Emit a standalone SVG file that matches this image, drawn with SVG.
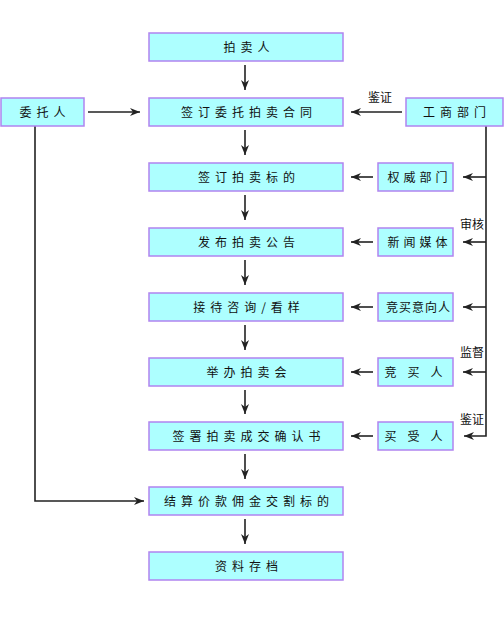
<svg xmlns="http://www.w3.org/2000/svg" width="504" height="625" viewBox="0 0 504 625">
<style>
.box{fill:#adffff;stroke:#b084f0;stroke-width:1.5}
.t{font-family:"Noto Sans CJK SC","Noto Sans",sans-serif;font-size:12px;fill:#111;text-anchor:middle}
.s{letter-spacing:5px}
.lbl{font-family:"Noto Sans CJK SC","Noto Sans",sans-serif;font-size:12px;fill:#111;text-anchor:middle}
.c{fill:none;stroke:#222;stroke-width:1.6}
</style>
<defs>
<marker id="ah" viewBox="0 0 10 8" refX="10" refY="4" markerWidth="10" markerHeight="8" markerUnits="userSpaceOnUse" orient="auto">
<path d="M0,0 L10,4 L0,8 L3,4 Z" fill="#222"/>
</marker>
</defs>
<rect width="504" height="625" fill="#fff"/>
<g id="connectors">
<line class="c" x1="245" y1="65" x2="245" y2="90" marker-end="url(#ah)"/>
<line class="c" x1="245" y1="130" x2="245" y2="155" marker-end="url(#ah)"/>
<line class="c" x1="245" y1="195" x2="245" y2="220" marker-end="url(#ah)"/>
<line class="c" x1="245" y1="260" x2="245" y2="285" marker-end="url(#ah)"/>
<line class="c" x1="245" y1="325" x2="245" y2="350" marker-end="url(#ah)"/>
<line class="c" x1="245" y1="390" x2="245" y2="414" marker-end="url(#ah)"/>
<line class="c" x1="245" y1="454" x2="245" y2="479" marker-end="url(#ah)"/>
<line class="c" x1="245" y1="519" x2="245" y2="544" marker-end="url(#ah)"/>
<line class="c" x1="88" y1="112" x2="140" y2="112" marker-end="url(#ah)"/>
<line class="c" x1="402" y1="112" x2="351" y2="112" marker-end="url(#ah)"/>
<polyline class="c" points="35,126 35,501 144,501" marker-end="url(#ah)"/>
<polyline class="c" points="486,126 486,436 464,436" marker-end="url(#ah)"/>
<line class="c" x1="486" y1="177" x2="463" y2="177" marker-end="url(#ah)"/>
<line class="c" x1="486" y1="242" x2="463" y2="242" marker-end="url(#ah)"/>
<line class="c" x1="486" y1="307" x2="463" y2="307" marker-end="url(#ah)"/>
<line class="c" x1="486" y1="372" x2="463" y2="372" marker-end="url(#ah)"/>
<line class="c" x1="373" y1="177" x2="351" y2="177" marker-end="url(#ah)"/>
<line class="c" x1="373" y1="242" x2="351" y2="242" marker-end="url(#ah)"/>
<line class="c" x1="373" y1="307" x2="351" y2="307" marker-end="url(#ah)"/>
<line class="c" x1="373" y1="372" x2="351" y2="372" marker-end="url(#ah)"/>
<line class="c" x1="373" y1="436" x2="351" y2="436" marker-end="url(#ah)"/>
<text class="lbl" x="380" y="102">鉴证</text>
<text class="lbl" x="472" y="229">审核</text>
<text class="lbl" x="472" y="357">监督</text>
<text class="lbl" x="472" y="424">鉴证</text>
</g>
<g id="n1"><rect class="box" x="149" y="33" width="194" height="28"/><text class="t s" x="249" y="51.5">拍卖人</text></g>
<g id="n2"><rect class="box" x="149" y="98" width="194" height="28"/><text class="t s" x="249" y="116.5">签订委托拍卖合同</text></g>
<g id="n3"><rect class="box" x="149" y="163" width="194" height="28"/><text class="t s" x="249" y="181.5">签订拍卖标的</text></g>
<g id="n4"><rect class="box" x="149" y="228" width="194" height="28"/><text class="t s" x="249" y="246.5">发布拍卖公告</text></g>
<g id="n5"><rect class="box" x="149" y="293" width="194" height="28"/><text class="t s" x="249" y="311.5">接待咨询/看样</text></g>
<g id="n6"><rect class="box" x="149" y="358" width="194" height="28"/><text class="t s" x="249" y="376.5">举办拍卖会</text></g>
<g id="n7"><rect class="box" x="149" y="422" width="194" height="28"/><text class="t s" x="249" y="440.5">签署拍卖成交确认书</text></g>
<g id="n8"><rect class="box" x="149" y="487" width="194" height="28"/><text class="t s" x="249" y="505.5">结算价款佣金交割标的</text></g>
<g id="n9"><rect class="box" x="149" y="552" width="194" height="28"/><text class="t s" x="249" y="570.5">资料存档</text></g>
<g id="weituoren"><rect class="box" x="1" y="98" width="83" height="28"/><text class="t s" x="45" y="116.5">委托人</text></g>
<g id="gongshang"><rect class="box" x="406" y="98" width="97" height="28"/><text class="t s" x="457" y="116.5">工商部门</text></g>
<g id="quanwei"><rect class="box" x="378" y="163" width="75" height="28"/><text class="t" x="419.5" y="181.5" style="letter-spacing:4px">权威部门</text></g>
<g id="xinwen"><rect class="box" x="378" y="228" width="75" height="28"/><text class="t" x="419.5" y="246.5" style="letter-spacing:4px">新闻媒体</text></g>
<g id="jingmaiyixiang"><rect class="box" x="378" y="293" width="75" height="28"/><text class="t" x="418.5" y="311.5" style="letter-spacing:1px">竞买意向人</text></g>
<g id="jingmairen"><rect class="box" x="378" y="358" width="75" height="28"/><text class="t" x="419" y="376.5" style="letter-spacing:11px">竞买人</text></g>
<g id="maishouren"><rect class="box" x="378" y="422" width="75" height="28"/><text class="t" x="419" y="440.5" style="letter-spacing:11px">买受人</text></g>
</svg>
